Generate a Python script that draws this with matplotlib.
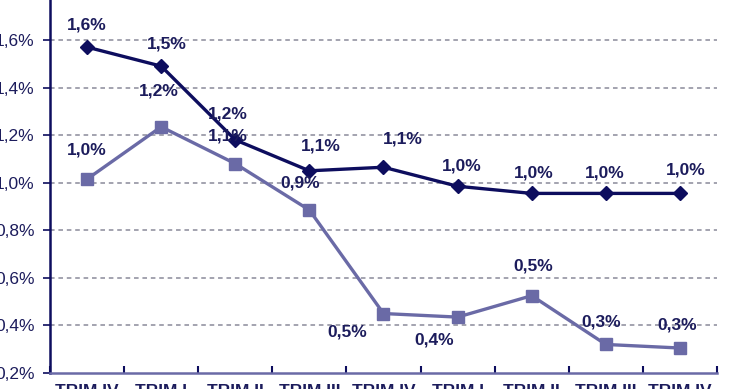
import numpy as np
import matplotlib
matplotlib.use("Agg")
import matplotlib.pyplot as plt

# data
categories = ["TRIM IV", "TRIM I", "TRIM II", "TRIM III", "TRIM IV",
              "TRIM I", "TRIM II", "TRIM III", "TRIM IV"]
serie_a = [1.57, 1.49, 1.18, 1.05, 1.065, 0.985, 0.955, 0.955, 0.955]
serie_b = [1.015, 1.235, 1.08, 0.885, 0.45, 0.435, 0.525, 0.32, 0.305]
labels_a = ["1,6%", "1,5%", "1,2%", "1,1%", "1,1%", "1,0%", "1,0%", "1,0%", "1,0%"]
labels_b = ["1,0%", "1,2%", "1,1%", "0,9%", "0,5%", "0,4%", "0,5%", "0,3%", "0,3%"]

# label offsets in pixels (dx, dy)
off_a = [(0, 22), (6, 22), (-7, 26), (11, 25), (19, 28), (4, 20), (2, 20), (-1, 20), (6, 23)]
off_b = [(0, 29), (-2, 36), (-7, 28), (-9, 27), (-36, -18), (-23, -23), (2, 30), (-5, 22), (-3, 23)]

navy = "#0d0d5e"
slate = "#6a6aa6"
txt = "#1c1c5c"

plt.rcParams['font.family'] = ['Liberation Sans', 'DejaVu Sans']

fig = plt.figure(figsize=(7.4, 3.89), dpi=100)
ax = fig.add_axes([50/740, 16/389, 667/740, (389+7.6-16)/389])

x = np.arange(len(categories))
ax.plot(x, serie_a, color=navy, lw=2.4, marker="D", ms=7.5, zorder=4)
ax.plot(x, serie_b, color=slate, lw=2.4, marker="s", ms=8, zorder=3)

for i in range(len(x)):
    ax.annotate(labels_a[i], (x[i], serie_a[i]), xytext=off_a[i], textcoords="offset pixels",
                ha="center", va="center", fontsize=12.5, fontweight="bold", color=txt, zorder=5)
    ax.annotate(labels_b[i], (x[i], serie_b[i]), xytext=off_b[i], textcoords="offset pixels",
                ha="center", va="center", fontsize=12.5, fontweight="bold", color=txt, zorder=5)

ax.set_xlim(-0.5, len(x) - 0.5)
ax.set_ylim(0.2, 1.8)
yt = np.arange(0.2, 1.81, 0.2)
ax.set_yticks(yt)
ax.set_yticklabels([("%.1f%%" % v).replace(".", ",") for v in yt], fontsize=12.5, color=txt)
for v in yt[1:]:
    ax.axhline(v, color="#8a8a9a", lw=1.1, ls=(0, (3, 2.5)), zorder=1)

ax.set_xticks(x)
ax.set_xticklabels(categories, fontsize=12.5, fontweight="bold", color=txt)
ax.set_xticks(np.arange(-0.5, len(x)), minor=True)
ax.tick_params(axis="x", which="major", length=0, pad=8)
ax.tick_params(axis="x", which="minor", direction="in", length=5, width=1.5, color=navy)
ax.tick_params(axis="y", direction="out", length=5, width=1.2, color=navy, pad=6)

for s in ["top", "right"]:
    ax.spines[s].set_visible(False)
ax.spines["left"].set_color(navy)
ax.spines["bottom"].set_color(slate)
ax.spines["left"].set_linewidth(1.8)
ax.spines["bottom"].set_linewidth(1.8)

fig.savefig("out.png", dpi=100)
